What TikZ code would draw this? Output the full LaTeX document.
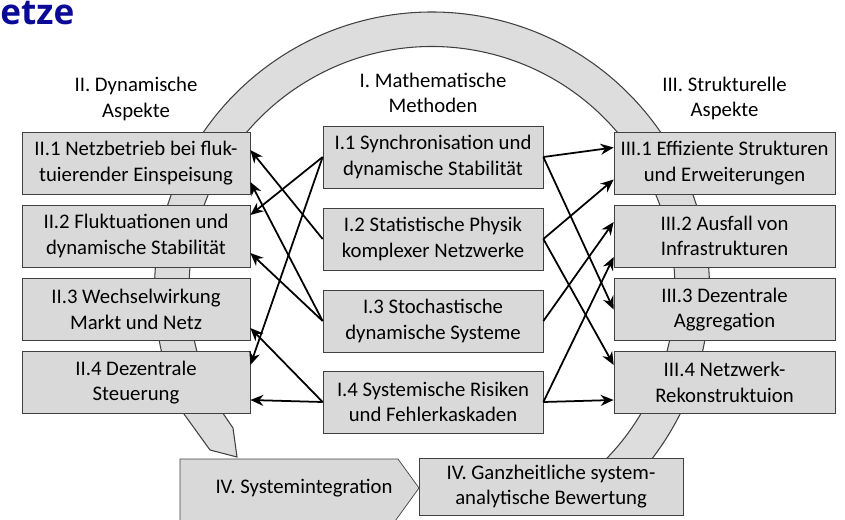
\documentclass[tikz,border=0pt]{standalone}
\usepackage{fontspec}
\setmainfont{Carlito}
\newfontfamily\titlefont{Open Sans}
\usetikzlibrary{calc,positioning,arrows.meta}
\definecolor{boxfill}{RGB}{217,217,217}
\definecolor{ringfill}{RGB}{221,221,221}
\definecolor{titleblue}{RGB}{10,10,150}
\newcommand{\boxfont}{\fontsize{11.8}{14.6}\selectfont}

\begin{document}
\begin{tikzpicture}[
    topic/.style={draw=black!75, fill=boxfill, align=center, inner sep=1pt,
        minimum height=1.24cm, font=\boxfont},
    head/.style={align=center, font=\boxfont},
    link/.style={-{Stealth[length=2.6mm,width=2.2mm]}, line width=1pt},
    ring/.style={draw=black!75, fill=ringfill, line width=0.6pt}]
    \useasboundingbox (0,0) rectangle (16.9,10.38);

    % the cycle behind the boxes
    \coordinate (ctr) at (8.64,4.59);
    \draw[ring] ($(ctr)+(-52:5.55)$) arc[start angle=-52, end angle=206.7, radius=5.55]
        -- (4.20,1.38) -- (4.74,1.24) -- (4.66,1.82)
        -- ($(ctr)+(210.5:4.86)$) arc[start angle=210.5, end angle=-52, radius=4.86]
        -- cycle;

    \node[anchor=base west, text=titleblue, inner sep=0pt,
        font=\titlefont\bfseries\fontsize{20}{24}\selectfont] (title) at (0,9.90) {etze};

    \node[head] (hII) at (2.72,8.40) {II. Dynamische\\Aspekte};
    \node[head] (hI) at (8.66,8.52) {I. Mathematische\\Methoden};
    \node[head] (hIII) at (14.49,8.41) {III. Strukturelle\\Aspekte};

    % II. dynamic aspects
    \node[topic, minimum width=4.56cm] (II1) at (2.72,7.12)
        {II.1 Netzbetrieb bei fluk-\\tuierender Einspeisung};
    \node[topic, minimum width=4.56cm] (II2) at (2.72,5.66)
        {II.2 Fluktuationen und\\dynamische Stabilität};
    \node[topic, minimum width=4.56cm] (II3) at (2.72,4.19)
        {II.3 Wechselwirkung\\Markt und Netz};
    \node[topic, minimum width=4.56cm] (II4) at (2.72,2.73)
        {II.4 Dezentrale\\Steuerung};

    % I. methods
    \node[topic, minimum width=4.4cm] (I1) at (8.66,7.24)
        {I.1 Synchronisation und\\dynamische Stabilität};
    \node[topic, minimum width=4.4cm] (I2) at (8.66,5.60)
        {I.2 Statistische Physik\\komplexer Netzwerke};
    \node[topic, minimum width=4.4cm] (I3) at (8.66,3.96)
        {I.3 Stochastische\\dynamische Systeme};
    \node[topic, minimum width=4.4cm] (I4) at (8.66,2.34)
        {I.4 Systemische Risiken\\und Fehlerkaskaden};

    % III. structural aspects
    \node[topic, minimum width=4.42cm] (III1) at (14.49,7.12)
        {III.1 Effiziente Strukturen\\und Erweiterungen};
    \node[topic, minimum width=4.42cm] (III2) at (14.49,5.66)
        {III.2 Ausfall von\\Infrastrukturen};
    \node[topic, minimum width=4.42cm] (III3) at (14.49,4.19)
        {III.3 Dezentrale\\Aggregation};
    \node[topic, minimum width=4.42cm] (III4) at (14.49,2.73)
        {III.4 Netzwerk-\\Rekonstruktuion};

    % IV. integration
    \draw[draw=black!75, fill=boxfill] (3.6,-0.05) -- (3.6,1.2) -- (7.96,1.2)
        -- (8.38,0.62) -- (7.895,-0.05) -- cycle;
    \node[head] (sysint) at (6.08,0.62) {IV. Systemintegration};
    \node[topic, minimum width=5.28cm, minimum height=1.14cm] (eval) at (11.02,0.65)
        {IV. Ganzheitliche system-\\analytische Bewertung};

    \path[link] (I2.west) edge ($(II1.east)+(0,0.26)$);
    \path[link] (I3.west) edge ($(II1.east)+(0,-0.38)$);
    \path[link] (I1.west) edge ($(II2.east)+(0,0.42)$);
    \path[link] (I3.west) edge ($(II2.east)+(0,-0.34)$);
    \path[link] (I4.west) edge ($(II3.east)+(0,-0.37)$);
    \path[link] (I1.west) edge ($(II4.east)+(0,0.35)$);
    \path[link] (I4.west) edge ($(II4.east)+(0,-0.35)$);

    \path[link] (I1.east) edge ($(III1.west)+(0,0.31)$);
    \path[link] (I1.east) edge (III3.west);
    \path[link] (I2.east) edge ($(III1.west)+(0,-0.33)$);
    \path[link] (I2.east) edge ($(III4.west)+(0,0.35)$);
    \path[link] (I3.east) edge ($(III2.west)+(0,0.28)$);
    \path[link] (I4.east) edge ($(III2.west)+(0,-0.42)$);
    \path[link] (I4.east) edge ($(III4.west)+(0,-0.35)$);
\end{tikzpicture}
\end{document}
